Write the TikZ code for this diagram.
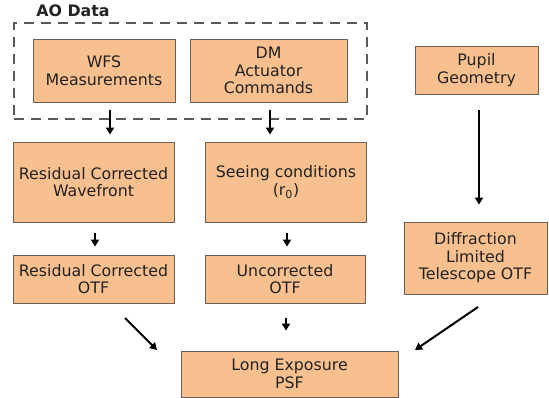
\documentclass[tikz,border=0pt]{standalone}
\usepackage{fontspec}
\setmainfont{DejaVu Sans}
\usetikzlibrary{arrows.meta}
\definecolor{boxfill}{HTML}{F9C08F}
\definecolor{boxline}{HTML}{6A5E55}
\definecolor{txt}{HTML}{222222}
\tikzset{
  box/.style={draw=boxline, line width=0.8pt, fill=boxfill, text=txt, align=center,
    inner sep=0pt, font=\fontsize{15.8}{17.6}\selectfont},
  arr/.style={line width=2pt, -{Triangle[length=7pt,width=8pt]}},
}
\begin{document}
\begin{tikzpicture}[x=1pt,y=-1pt]
\useasboundingbox (0,0) rectangle (549,398);
\node[draw=black!65, dash pattern=on 10pt off 7pt, line width=1.2pt, minimum width=353pt, minimum height=96pt, inner sep=0pt] (aobox) at (190.5,71) {};
\node[font=\fontsize{15.8}{18}\selectfont\bfseries, text=txt] (aolabel) at (73,11) {AO Data};
\node[box, minimum width=142pt, minimum height=63pt] (wfs) at (104,70.5) {WFS\\Measurements};
\node[box, minimum width=157pt, minimum height=63pt] (dm) at (268.5,70.5) {DM\\Actuator\\Commands};
\node[box, minimum width=161pt, minimum height=80pt] (rcw) at (93.5,182) {Residual Corrected\\Wavefront};
\node[box, minimum width=161pt, minimum height=80pt] (see) at (286,182) {Seeing conditions\\(r\textsubscript{0})};
\node[box, minimum width=161pt, minimum height=48pt] (rco) at (93.5,279) {Residual Corrected\\OTF};
\node[box, minimum width=160pt, minimum height=48pt] (unc) at (285,279) {Uncorrected\\OTF};
\node[box, minimum width=123pt, minimum height=48pt] (pup) at (476.5,70) {Pupil\\Geometry};
\node[box, minimum width=143pt, minimum height=72pt] (dif) at (475.5,258) {Diffraction\\Limited\\Telescope OTF};
\node[box, minimum width=217pt, minimum height=46pt] (psf) at (289.5,374) {Long Exposure\\PSF};
\coordinate (c1) at (110,0);
\coordinate (c2) at (270,0);
\coordinate (c3) at (95,0);
\coordinate (c4) at (287,0);
\coordinate (c5) at (479,0);
\coordinate (c6) at (286,0);
\draw[arr, shorten <=8pt, shorten >=7pt] (wfs.south -| c1) -- (rcw.north -| c1);
\draw[arr, shorten <=8pt, shorten >=7pt] (dm.south -| c2) -- (see.north -| c2);
\draw[arr, shorten <=11pt, shorten >=8pt] (rcw.south -| c3) -- (rco.north -| c3);
\draw[arr, shorten <=11pt, shorten >=8pt] (see.south -| c4) -- (unc.north -| c4);
\draw[arr, shorten <=16pt, shorten >=17pt] (pup.south -| c5) -- (dif.north -| c5);
\draw[arr, shorten <=15pt, shorten >=20pt] (unc.south -| c6) -- (psf.north -| c6);
\coordinate (l0) at (125,318);
\coordinate (l1) at (157,350);
\coordinate (r0) at (478,307);
\coordinate (r1) at (415,350);
\draw[arr] (l0) -- (l1);
\draw[arr] (r0) -- (r1);
\end{tikzpicture}
\end{document}
